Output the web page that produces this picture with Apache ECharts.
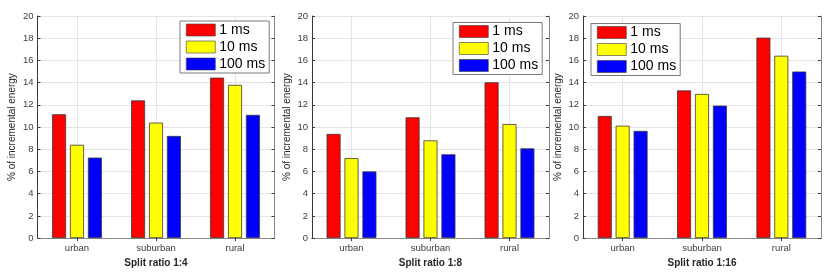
<!DOCTYPE html>
<html>
<head>
<meta charset="utf-8">
<script src="https://cdn.jsdelivr.net/npm/echarts@6/dist/echarts.min.js"></script>
<style>
html,body{margin:0;padding:0;background:#fff;}
#c{width:830px;height:273px;}
</style>
</head>
<body>
<div id="c"></div>
<script>
var categories = ['urban', 'suburban', 'rural'];
var seriesNames = ['1 ms', '10 ms', '100 ms'];
var panelTitles = ['Split ratio 1:4', 'Split ratio 1:8', 'Split ratio 1:16'];
var yTitle = '% of incremental energy';

// panel 1 (split ratio 1:4)
var p1_1ms = [11.15, 12.4, 14.45];
var p1_10ms = [8.4, 10.4, 13.8];
var p1_100ms = [7.25, 9.2, 11.1];
// panel 2 (split ratio 1:8)
var p2_1ms = [9.38, 10.88, 14.03];
var p2_10ms = [7.2, 8.8, 10.27];
var p2_100ms = [6.0, 7.55, 8.08];
// panel 3 (split ratio 1:16)
var p3_1ms = [11.0, 13.3, 18.05];
var p3_10ms = [10.12, 12.98, 16.42];
var p3_100ms = [9.65, 11.93, 15.0];

var panels = [[p1_1ms, p1_10ms, p1_100ms], [p2_1ms, p2_10ms, p2_100ms], [p3_1ms, p3_10ms, p3_100ms]];
var colors = ['#ff0000', '#ffff00', '#0000ff'];

var FONT = '"Liberation Sans", Arial, Helvetica, sans-serif';
var gridPos = [
  {left: 37.5, top: 16, width: 237, height: 226.5},
  {left: 312, top: 16, width: 237, height: 226.5},
  {left: 583, top: 16, width: 238, height: 226.5}
];
var legendPos = [
  {left: 180, top: 21},
  {left: 453, top: 22.5},
  {left: 591, top: 23.5}
];

var grid = [], xAxis = [], yAxis = [], series = [], legend = [];
var sixEmpty = ['', '', '', '', '', ''];
for (var i = 0; i < 3; i++) {
  grid.push(Object.assign({containLabel: false}, gridPos[i]));
  xAxis.push({
    type: 'category', gridIndex: i, data: categories, position: 'bottom',
    axisLine: {show: true, lineStyle: {color: '#3a3a3a', width: 1}},
    axisTick: {show: true, inside: true, alignWithLabel: true, length: 3, lineStyle: {color: '#3a3a3a'}},
    axisLabel: {fontFamily: FONT, fontSize: 9.5, color: '#3c3c3c', margin: 5},
    splitLine: {show: false},
    name: panelTitles[i], nameLocation: 'middle', nameGap: 17,
    nameTextStyle: {fontFamily: FONT, fontSize: 10, fontWeight: 'bold', color: '#262626'}
  });
  xAxis.push({
    type: 'category', gridIndex: i, data: categories, position: 'top',
    axisLine: {show: true, lineStyle: {color: '#8a8a8a', width: 1}},
    axisTick: {show: true, inside: true, alignWithLabel: true, length: 3, lineStyle: {color: '#3a3a3a'}},
    axisLabel: {show: false}, splitLine: {show: false}
  });
  xAxis.push({
    type: 'category', gridIndex: i, data: sixEmpty, position: 'bottom', boundaryGap: true,
    axisLine: {show: false}, axisTick: {show: false}, axisLabel: {show: false},
    splitLine: {show: true, interval: function (idx) { return idx % 2 === 1; }, lineStyle: {color: '#e4e4e4', width: 1}}
  });
  yAxis.push({
    type: 'value', gridIndex: i, min: 0, max: 20, interval: 2, position: 'left',
    axisLine: {show: true, lineStyle: {color: '#3a3a3a', width: 1}},
    axisTick: {show: true, inside: true, length: 3, lineStyle: {color: '#3a3a3a'}},
    axisLabel: {fontFamily: FONT, fontSize: 9.5, color: '#3c3c3c', margin: 4},
    splitLine: {show: true, lineStyle: {color: '#e4e4e4', width: 1}},
    name: yTitle, nameLocation: 'middle', nameGap: 20, nameRotate: 90,
    nameTextStyle: {fontFamily: FONT, fontSize: 10, color: '#262626'}
  });
  yAxis.push({
    type: 'value', gridIndex: i, min: 0, max: 20, interval: 2, position: 'right',
    axisLine: {show: true, lineStyle: {color: '#8a8a8a', width: 1}},
    axisTick: {show: true, inside: true, length: 3, lineStyle: {color: '#3a3a3a'}},
    axisLabel: {show: false}, splitLine: {show: false}
  });
  for (var s = 0; s < 3; s++) {
    series.push({
      type: 'bar', name: seriesNames[s], xAxisIndex: 3 * i, yAxisIndex: 2 * i,
      data: panels[i][s], barWidth: 14, barGap: '28%',
      itemStyle: {color: colors[s], borderColor: '#3a3a3a', borderWidth: 0.8},
      animation: false
    });
  }
  legend.push({
    data: seriesNames, orient: 'vertical', left: legendPos[i].left, top: legendPos[i].top,
    icon: 'rect', itemWidth: 29, itemHeight: 12, itemGap: 3,
    itemStyle: {borderWidth: 0.6, borderColor: '#3a3a3a'},
    padding: [2, 4, 2, 6], backgroundColor: '#ffffff', borderColor: '#7a7a7a', borderWidth: 1, borderRadius: 0,
    textStyle: {fontFamily: FONT, fontSize: 14, color: '#000', lineHeight: 14, padding: [0, 0, 0, -1]},
    selectedMode: false, z: 10
  });
}

var chart = echarts.init(document.getElementById('c'), null, {renderer: 'canvas'});
chart.setOption({
  backgroundColor: '#ffffff',
  animation: false,
  grid: grid, xAxis: xAxis, yAxis: yAxis, series: series, legend: legend
});
</script>
</body>
</html>
